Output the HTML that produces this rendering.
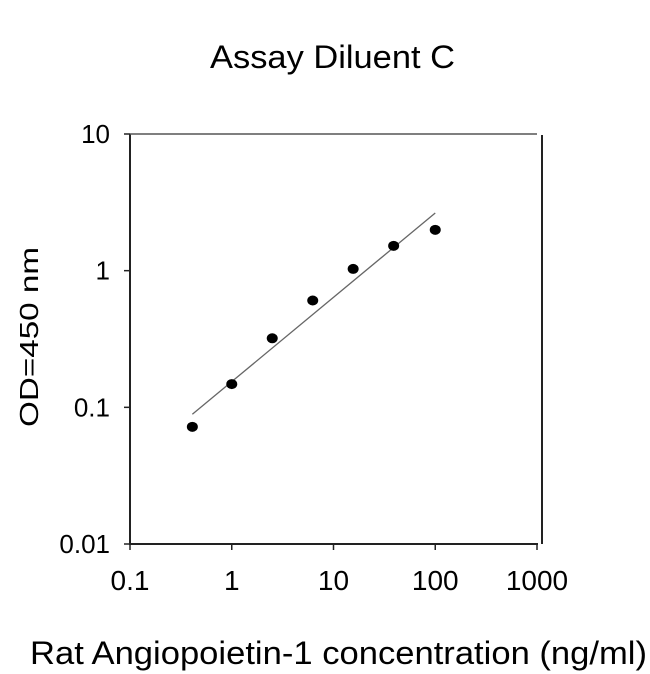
<!DOCTYPE html>
<html><head><meta charset="utf-8"><style>
body{margin:0;background:#fff;}
svg{display:block;font-family:"Liberation Sans",Arial,sans-serif;}
</style></head><body>
<svg id="chart" width="650" height="674">
<text x="210" y="68" font-size="32" textLength="245" lengthAdjust="spacingAndGlyphs">Assay Diluent C</text>
<text x="30" y="664" font-size="32" textLength="617" lengthAdjust="spacingAndGlyphs">Rat Angiopoietin-1 concentration (ng/ml)</text>
<text transform="translate(38,427) rotate(-90)" font-size="26" textLength="180" lengthAdjust="spacingAndGlyphs">OD=450 nm</text>
<g id="axes"></g>
<g id="marks"></g>
</svg>
<script>
const xTicks=[0.1,1,10,100,1000];
const xTickLabels=["0.1","1","10","100","1000"];
const yTicks=[0.01,0.1,1,10];
const yTickLabels=["0.01","0.1","1","10"];
const concentrations=[0.41,1,2.5,6.25,15.6,39,100];
const odValues=[0.072,0.148,0.32,0.605,1.03,1.52,1.99];
const fitX=[0.41,100];
const fitY=[0.089,2.64];

const L=130,R=537,T=134,B=544;
function xs(v){return L+(Math.log10(v)+1)/4*(R-L);}
function ys(v){return B-(Math.log10(v)+2)/3*(B-T);}
const NS="http://www.w3.org/2000/svg";
function mk(tag,attrs,parent){const e=document.createElementNS(NS,tag);for(const k in attrs)e.setAttribute(k,attrs[k]);parent.appendChild(e);return e;}
const axes=document.getElementById('axes'),marks=document.getElementById('marks');
let e;
e=mk('line',{x1:L,y1:T,x2:L,y2:B+1,stroke:'#222','stroke-width':2},axes);


e=mk('line',{x1:L-1,y1:B,x2:R+1,y2:B,stroke:'#222','stroke-width':2},axes);


e=mk('line',{x1:L,y1:T,x2:R,y2:T,stroke:'#555','stroke-width':1.5},axes);


e=mk('line',{x1:542,y1:T+1,x2:542,y2:B,stroke:'#222','stroke-width':2},axes);


xTicks.forEach((v,i)=>{
 const x=xs(v);
 let t=mk('line',{x1:x,y1:B,x2:x,y2:B+6,stroke:'#222','stroke-width':1.5},axes);
 
 
 let tx=mk('text',{x:x,y:590,'font-size':28,'text-anchor':'middle'},axes);
 tx.textContent=xTickLabels[i];
 
 
});
yTicks.forEach((v,i)=>{
 const y=ys(v);
 let t=mk('line',{x1:L-6,y1:y,x2:L,y2:y,stroke:'#222','stroke-width':1.5},axes);
 
 
 let tx=mk('text',{x:110,y:y+9,'font-size':26,'text-anchor':'end'},axes);
 tx.textContent=yTickLabels[i];
 
 
});
e=mk('line',{x1:xs(fitX[0]),y1:ys(fitY[0]),x2:xs(fitX[1]),y2:ys(fitY[1]),stroke:'#666','stroke-width':1.3},marks);


concentrations.forEach((c,i)=>{
 let d=mk('ellipse',{cx:xs(c),cy:ys(odValues[i]),rx:5.5,ry:5,fill:'#000'},marks);
 
 
});
</script>
</body></html>
